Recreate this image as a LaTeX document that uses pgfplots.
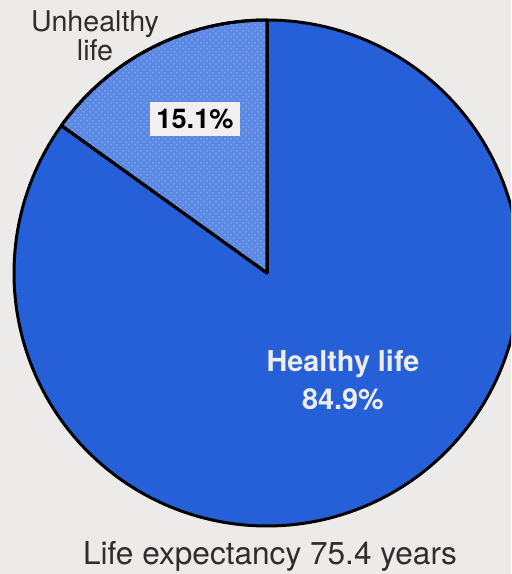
\documentclass[border=0pt]{standalone}
\usepackage{pgfplots}
\pgfplotsset{compat=1.18}
\usepackage{pgfplotstable}
\usetikzlibrary{patterns}
\usepackage{fontspec}
\setmainfont{TeX Gyre Heros}
\definecolor{bg}{HTML}{EDEAEA}
\definecolor{healthy}{HTML}{2660D8}
\definecolor{unh}{HTML}{5A88E2}
\definecolor{unhdot}{HTML}{7EA3EE}
\definecolor{txt}{HTML}{2E2E2E}
\definecolor{boxc}{HTML}{F1EFEF}

\pgfplotstableread{
label value
Healthy 84.9
Unhealthy 15.1
}\piedata

\begin{document}
\begin{tikzpicture}
\pgfplotstablegetelem{0}{value}\of\piedata \let\vh\pgfplotsretval
\pgfplotstablegetelem{1}{value}\of\piedata \let\vu\pgfplotsretval
\pgfmathsetmacro{\aS}{90}
\pgfmathsetmacro{\aU}{90+3.6*\vu}
\pgfmathsetmacro{\aE}{\aU+3.6*\vh}
\begin{axis}[
  name=pie,
  scale only axis,
  width=255.5pt, height=287pt,
  xmin=0, xmax=511, ymin=0, ymax=574,
  hide axis,
  clip=true,
]
\fill[bg] (axis cs:0,0) rectangle (axis cs:511,574);
\addplot[draw=black, line width=1.5pt, line join=round, fill=healthy,
  domain=\aU:\aE, samples=200, variable=\t]
  ({267+253*cos(t)}, {301+253*sin(t)}) -- (axis cs:267,301) -- cycle;
\addplot[draw=black, line width=1.5pt, line join=round, fill=unh,
  postaction={pattern=crosshatch dots, pattern color=unhdot},
  domain=\aS:\aU, samples=60, variable=\t]
  ({267+253*cos(t)}, {301+253*sin(t)}) -- (axis cs:267,301) -- cycle;

\node[text=txt, font=\fontsize{14.3}{13.5}\selectfont, align=center] at (axis cs:95,538) {Unhealthy\\life};
\node[fill=boxc, text=black, font=\fontsize{13.6}{16}\bfseries, inner xsep=3.2pt, inner ysep=3.6pt] at (axis cs:195,455) {\vu\%};
\node[text=white!93!black, font=\fontsize{14.4}{16}\bfseries, align=center] at (axis cs:343,194) {Healthy life\\[3pt]\vh\%};
\node[text=txt, font=\fontsize{15.8}{16}\selectfont] at (axis cs:270,18) {Life expectancy 75.4 years};
\end{axis}
\pgfresetboundingbox
\path[use as bounding box] (pie.south west) rectangle (pie.north east);
\end{tikzpicture}
\end{document}
